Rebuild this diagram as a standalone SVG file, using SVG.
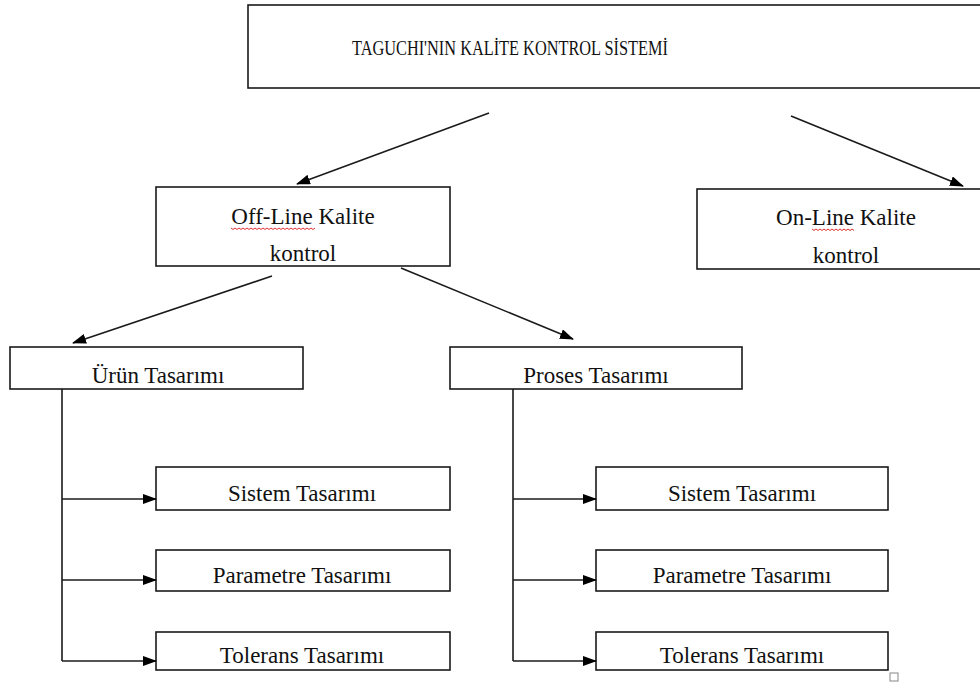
<svg xmlns="http://www.w3.org/2000/svg" width="980" height="686" viewBox="0 0 980 686">
  <defs>
    <marker id="arrow" markerWidth="14" markerHeight="10" refX="13" refY="5" orient="auto" markerUnits="userSpaceOnUse">
      <path d="M0,0 L14,5 L0,10 Z" fill="#000"/>
    </marker>
  </defs>
  <style>
    .box{fill:#fff;stroke:#1a1a1a;stroke-width:1.6}
    .lbl{font-family:"Liberation Serif","Times New Roman",serif;font-size:23px;fill:#111;text-anchor:middle}
    .title{font-size:20px}
    .conn{stroke:#1a1a1a;stroke-width:1.6;fill:none}
    .arr{marker-end:url(#arrow)}
    .squig{stroke:#e03030;stroke-width:1;fill:none}
  </style>
  <rect width="980" height="686" fill="#fff"/>

  <!-- top node -->
  <g id="taguchi">
    <rect class="box" x="248" y="5" width="760" height="83"/>
    <text class="lbl title" x="510" y="55" textLength="316" lengthAdjust="spacingAndGlyphs">TAGUCHI'NIN KALİTE KONTROL SİSTEMİ</text>
  </g>

  <g id="offline">
    <rect class="box" x="156" y="187" width="294" height="79"/>
    <text class="lbl" x="303" y="224">Off-Line Kalite</text>
    <text class="lbl" x="303" y="261">kontrol</text>
    <path class="squig" d="M231,228 l2,1.5 l2,-1.5 l2,1.5 l2,-1.5 l2,1.5 l2,-1.5 l2,1.5 l2,-1.5 l2,1.5 l2,-1.5 l2,1.5 l2,-1.5 l2,1.5 l2,-1.5 l2,1.5 l2,-1.5 l2,1.5 l2,-1.5 l2,1.5 l2,-1.5 l2,1.5 l2,-1.5 l2,1.5 l2,-1.5 l2,1.5 l2,-1.5 l2,1.5 l2,-1.5 l2,1.5 l2,-1.5 l2,1.5 l2,-1.5 l2,1.5 l2,-1.5 l2,1.5 l2,-1.5 l2,1.5 l2,-1.5 l2,1.5 l2,-1.5 l2,1.5 l2,-1.5"/>
  </g>

  <g id="online">
    <rect class="box" x="697" y="189" width="300" height="80"/>
    <text class="lbl" x="846" y="225">On-Line Kalite</text>
    <text class="lbl" x="846" y="263">kontrol</text>
    <path class="squig" d="M812,229 l2,1.5 l2,-1.5 l2,1.5 l2,-1.5 l2,1.5 l2,-1.5 l2,1.5 l2,-1.5 l2,1.5 l2,-1.5 l2,1.5 l2,-1.5 l2,1.5 l2,-1.5 l2,1.5 l2,-1.5 l2,1.5 l2,-1.5 l2,1.5 l2,-1.5 l2,1.5"/>
  </g>

  <g id="urun">
    <rect class="box" x="10" y="347" width="293" height="42"/>
    <text class="lbl" x="158" y="383">Ürün Tasarımı</text>
  </g>

  <g id="proses">
    <rect class="box" x="450" y="347" width="292" height="42"/>
    <text class="lbl" x="596" y="383">Proses Tasarımı</text>
  </g>

  <g id="urun-sistem">
    <rect class="box" x="156" y="467" width="294" height="43"/>
    <text class="lbl" x="302" y="501">Sistem Tasarımı</text>
  </g>
  <g id="urun-parametre">
    <rect class="box" x="156" y="550" width="294" height="41"/>
    <text class="lbl" x="302" y="583">Parametre Tasarımı</text>
  </g>
  <g id="urun-tolerans">
    <rect class="box" x="156" y="632" width="294" height="38"/>
    <text class="lbl" x="302" y="663">Tolerans Tasarımı</text>
  </g>

  <g id="proses-sistem">
    <rect class="box" x="596" y="467" width="292" height="43"/>
    <text class="lbl" x="742" y="501">Sistem Tasarımı</text>
  </g>
  <g id="proses-parametre">
    <rect class="box" x="596" y="550" width="292" height="41"/>
    <text class="lbl" x="742" y="583">Parametre Tasarımı</text>
  </g>
  <g id="proses-tolerans">
    <rect class="box" x="596" y="632" width="292" height="38"/>
    <text class="lbl" x="742" y="663">Tolerans Tasarımı</text>
  </g>

  <!-- small handle square at the lower right -->
  <rect x="890" y="673" width="8" height="8" fill="#fff" stroke="#888" stroke-width="1"/>

  <g id="connectors">
    <line class="conn arr" x1="489" y1="113" x2="297" y2="184"/>
    <line class="conn arr" x1="791" y1="116" x2="963" y2="186"/>
    <line class="conn arr" x1="272" y1="276" x2="73" y2="343"/>
    <line class="conn arr" x1="401" y1="268" x2="573" y2="339"/>

    <line class="conn" x1="62" y1="389" x2="62" y2="661"/>
    <line class="conn arr" x1="62" y1="499" x2="156" y2="499"/>
    <line class="conn arr" x1="62" y1="580" x2="156" y2="580"/>
    <line class="conn arr" x1="62" y1="661" x2="156" y2="661"/>

    <line class="conn" x1="513" y1="389" x2="513" y2="661"/>
    <line class="conn arr" x1="513" y1="499" x2="596" y2="499"/>
    <line class="conn arr" x1="513" y1="580" x2="596" y2="580"/>
    <line class="conn arr" x1="513" y1="661" x2="596" y2="661"/>
  </g>
</svg>
